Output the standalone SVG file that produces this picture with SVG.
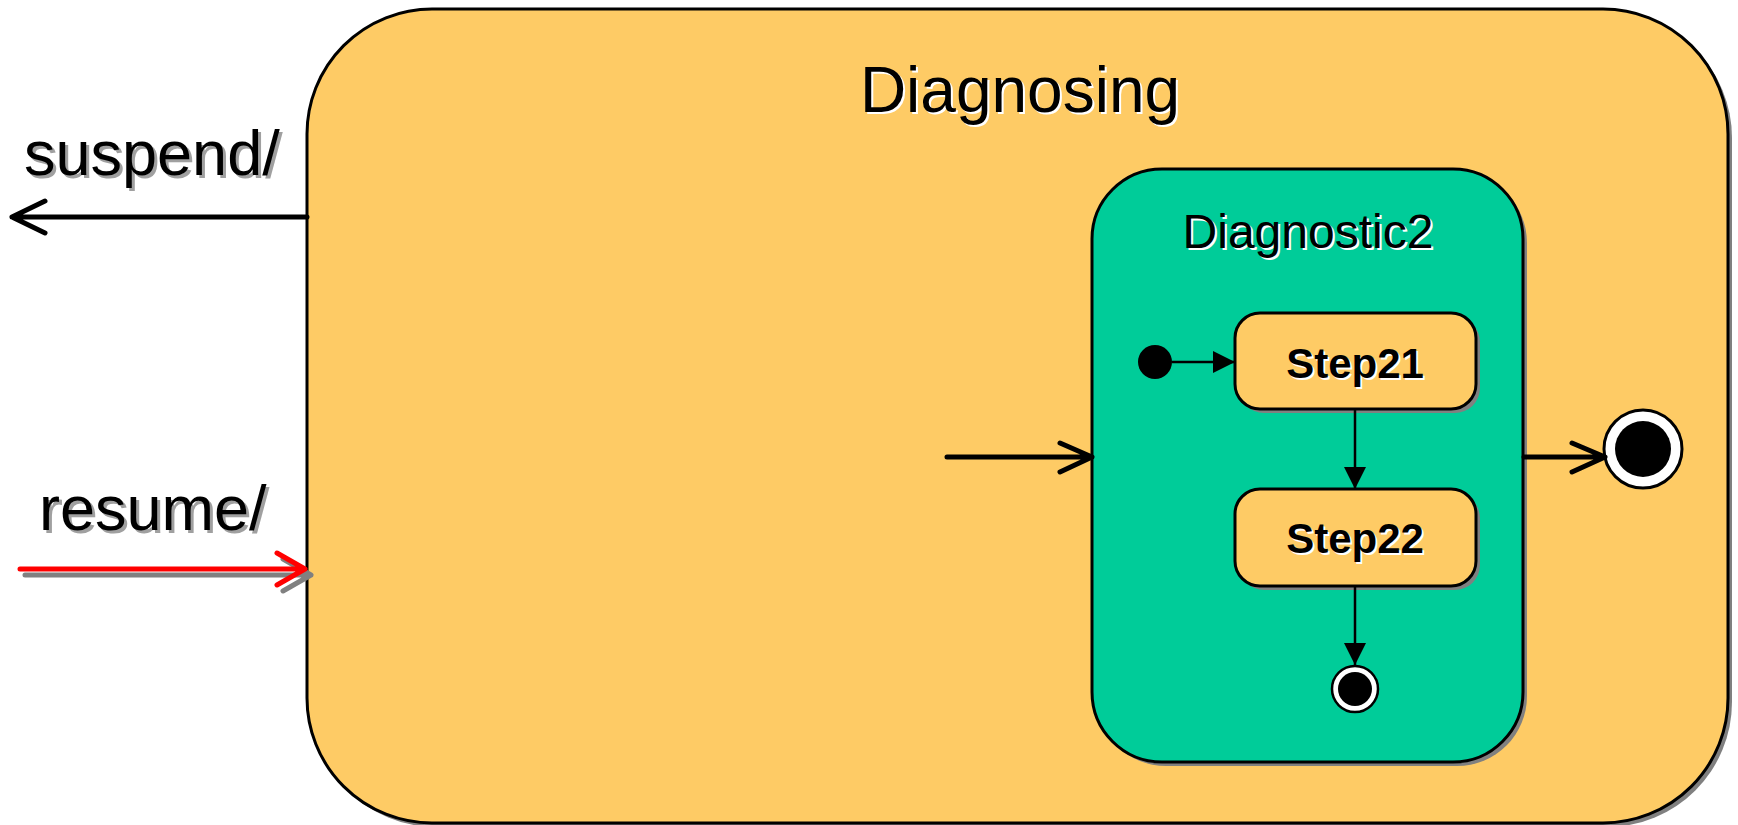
<svg xmlns="http://www.w3.org/2000/svg" width="1738" height="825" viewBox="0 0 1738 825">
  <style>
    .state { fill: #FECB65; stroke: #000; stroke-width: 3; }
    .composite { fill: #00CC99; stroke: #000; stroke-width: 3; }
    .shadow { fill: #808080; stroke: none; }
    .lbl { font-family: "Liberation Sans", Arial, sans-serif; text-anchor: middle; }
    .lbl-shadow { fill: #fff; }
    .ev { font-family: "Liberation Sans", Arial, sans-serif; font-size: 63px; }
    .flow { fill: none; stroke: #000; stroke-width: 5; stroke-linecap: round; stroke-linejoin: round; }
    .thin { fill: none; stroke: #000; stroke-width: 2.5; }
  </style>
  <defs>
    <marker id="tri" viewBox="0 0 10 10" refX="10" refY="5" markerWidth="22" markerHeight="22" markerUnits="userSpaceOnUse" orient="auto">
      <path d="M0,0 L10,5 L0,10 Z" fill="#000"/>
    </marker>
  </defs>

  <!-- composite state: Diagnosing -->
  <g id="diagnosing">
    <rect class="shadow" x="311" y="13" width="1421" height="814" rx="125"/>
    <rect class="state" x="307" y="9" width="1421" height="814" rx="125"/>
    <text class="lbl lbl-shadow" x="1022" y="114" font-size="64">Diagnosing</text>
    <text class="lbl" x="1020" y="112" font-size="64">Diagnosing</text>
  </g>

  <!-- nested composite: Diagnostic2 -->
  <g id="diagnostic2">
    <rect class="shadow" x="1096" y="173" width="431" height="593" rx="70"/>
    <rect class="composite" x="1092" y="169" width="431" height="593" rx="70"/>
    <text class="lbl lbl-shadow" x="1310" y="250" font-size="48">Diagnostic2</text>
    <text class="lbl" x="1308" y="248" font-size="48">Diagnostic2</text>
  </g>

  <g id="initial">
    <circle cx="1155" cy="362" r="17" fill="#000"/>
  </g>

  <g id="step21">
    <rect class="shadow" x="1239" y="317" width="241" height="96" rx="25"/>
    <rect class="state" x="1235" y="313" width="241" height="96" rx="25"/>
    <text class="lbl lbl-shadow" x="1357" y="380" font-size="42" font-weight="bold">Step21</text>
    <text class="lbl" x="1355" y="378" font-size="42" font-weight="bold">Step21</text>
  </g>

  <g id="step22">
    <rect class="shadow" x="1239" y="493" width="241" height="97" rx="25"/>
    <rect class="state" x="1235" y="489" width="241" height="97" rx="25"/>
    <text class="lbl lbl-shadow" x="1357" y="555" font-size="42" font-weight="bold">Step22</text>
    <text class="lbl" x="1355" y="553" font-size="42" font-weight="bold">Step22</text>
  </g>

  <g id="final-inner">
    <circle cx="1355" cy="689" r="23" fill="#fff" stroke="#000" stroke-width="2.5"/>
    <circle cx="1355" cy="689" r="17" fill="#000"/>
  </g>

  <g id="final-outer">
    <circle cx="1643" cy="449" r="39" fill="#fff" stroke="#000" stroke-width="3"/>
    <circle cx="1643" cy="449" r="28" fill="#000"/>
  </g>

  <!-- event labels -->
  <g id="label-suspend">
    <text class="ev" x="27" y="178" fill="#a0a0a0">suspend/</text>
    <text class="ev" x="24" y="175" fill="#000">suspend/</text>
  </g>
  <g id="label-resume">
    <text class="ev" x="42" y="533" fill="#a0a0a0">resume/</text>
    <text class="ev" x="39" y="530" fill="#000">resume/</text>
  </g>

  <!-- transitions -->
  <g id="connectors">
    <!-- suspend: leaves Diagnosing -->
    <path class="flow" d="M307,217 L12,217 M45,201 L12,217 L45,233"/>
    <!-- resume: enters Diagnosing (with drop shadow) -->
    <path class="flow" style="stroke:#808080" d="M25,575 L311,575 M283,559 L311,575 L283,591"/>
    <path class="flow" style="stroke:#FF0000" d="M20,569 L305,569 M277,553 L305,569 L277,585"/>
    <!-- entry into Diagnostic2 -->
    <path class="flow" d="M947,457 L1092,457 M1060,443 L1092,457 L1060,472"/>
    <!-- exit from Diagnostic2 to final -->
    <path class="flow" d="M1524,457 L1605,457 M1572,443 L1605,457 L1572,472"/>
    <!-- inner flow -->
    <path class="thin" d="M1172,362 L1235,362" marker-end="url(#tri)"/>
    <path class="thin" d="M1355,409 L1355,489" marker-end="url(#tri)"/>
    <path class="thin" d="M1355,586 L1355,665" marker-end="url(#tri)"/>
  </g>
</svg>
